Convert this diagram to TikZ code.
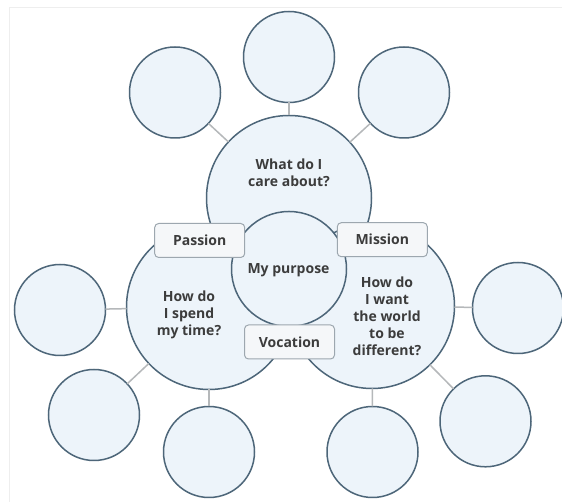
\documentclass[tikz,border=0pt]{standalone}
\usepackage{fontspec}
\setmainfont{Open Sans}
\begin{document}
\begin{tikzpicture}[x=1pt,y=1pt,
  bubble/.style={circle,draw=circstroke,fill=circfill,line width=1.5pt,inner sep=0pt,outer sep=0pt,minimum size=91pt},
  bigbubble/.style={bubble,minimum size=165pt},
  midbubble/.style={bubble,minimum size=115pt},
  link/.style={draw=linkgrey,line width=1.5pt},
  tag/.style={draw=tagstroke,fill=tagfill,line width=1pt,rounded corners=4pt,minimum width=90pt,minimum height=34pt,inner sep=0pt,font=\bfseries\fontsize{14}{17}\selectfont,text=txt},
  lbl/.style={font=\bfseries\fontsize{14}{17}\selectfont,text=txt,align=center,inner sep=0pt}
]
\definecolor{circstroke}{HTML}{4D6679}
\definecolor{circfill}{HTML}{EDF4FA}
\definecolor{linkgrey}{HTML}{B5B8BA}
\definecolor{tagstroke}{HTML}{9DA7AF}
\definecolor{tagfill}{HTML}{F5F7F9}
\definecolor{txt}{HTML}{3C3C3C}
\definecolor{frame}{HTML}{EEEEEE}
\useasboundingbox (0,0) rectangle (562,502);
\fill[white] (0,0) rectangle (562,502);
\draw[frame,line width=0.8pt] (9,0) -- (9,495) -- (562,495);
% small bubbles
\node[bubble] (topS) at (289,445) {};
\node[bubble] (topL) at (175,409.5) {};
\node[bubble] (topR) at (404,409.5) {};
\node[bubble] (leftS) at (60,192) {};
\node[bubble] (lowL) at (94,87) {};
\node[bubble] (botL) at (209,50) {};
\node[bubble] (rightS) at (518,194) {};
\node[bubble] (lowR) at (485.5,80.7) {};
\node[bubble] (botR) at (372.5,50) {};
% big bubbles
\node[bigbubble] (care) at (289,304) {};
\node[bigbubble] (spend) at (209,195) {};
\node[bigbubble] (world) at (372,196) {};
\node[midbubble] (purpose) at (289,233) {};
% connectors
\draw[link] (topS) -- (care);
\draw[link] (topL) -- (care);
\draw[link] (topR) -- (care);
\draw[link] (leftS) -- (spend);
\draw[link] (lowL) -- (spend);
\draw[link] (botL) -- (spend);
\draw[link] (rightS) -- (world);
\draw[link] (lowR) -- (world);
\draw[link] (botR) -- (world);
% texts
\node[lbl] (careT) at (289,329.5) {What do I\\care about?};
\node[lbl] (spendT) at (189,187) {How do\\I spend\\my time?};
\node[lbl] (worldT) at (387,186.2) {How do\\I want\\the world\\to be\\different?};
\node[lbl] (purposeT) at (288.5,232) {My purpose};
% tags
\node[tag] (passion) at (199.7,261.5) {Passion};
\node[tag] (mission) at (382.3,262.3) {Mission};
\node[tag] (vocation) at (289.5,160) {Vocation};
\end{tikzpicture}
\end{document}
